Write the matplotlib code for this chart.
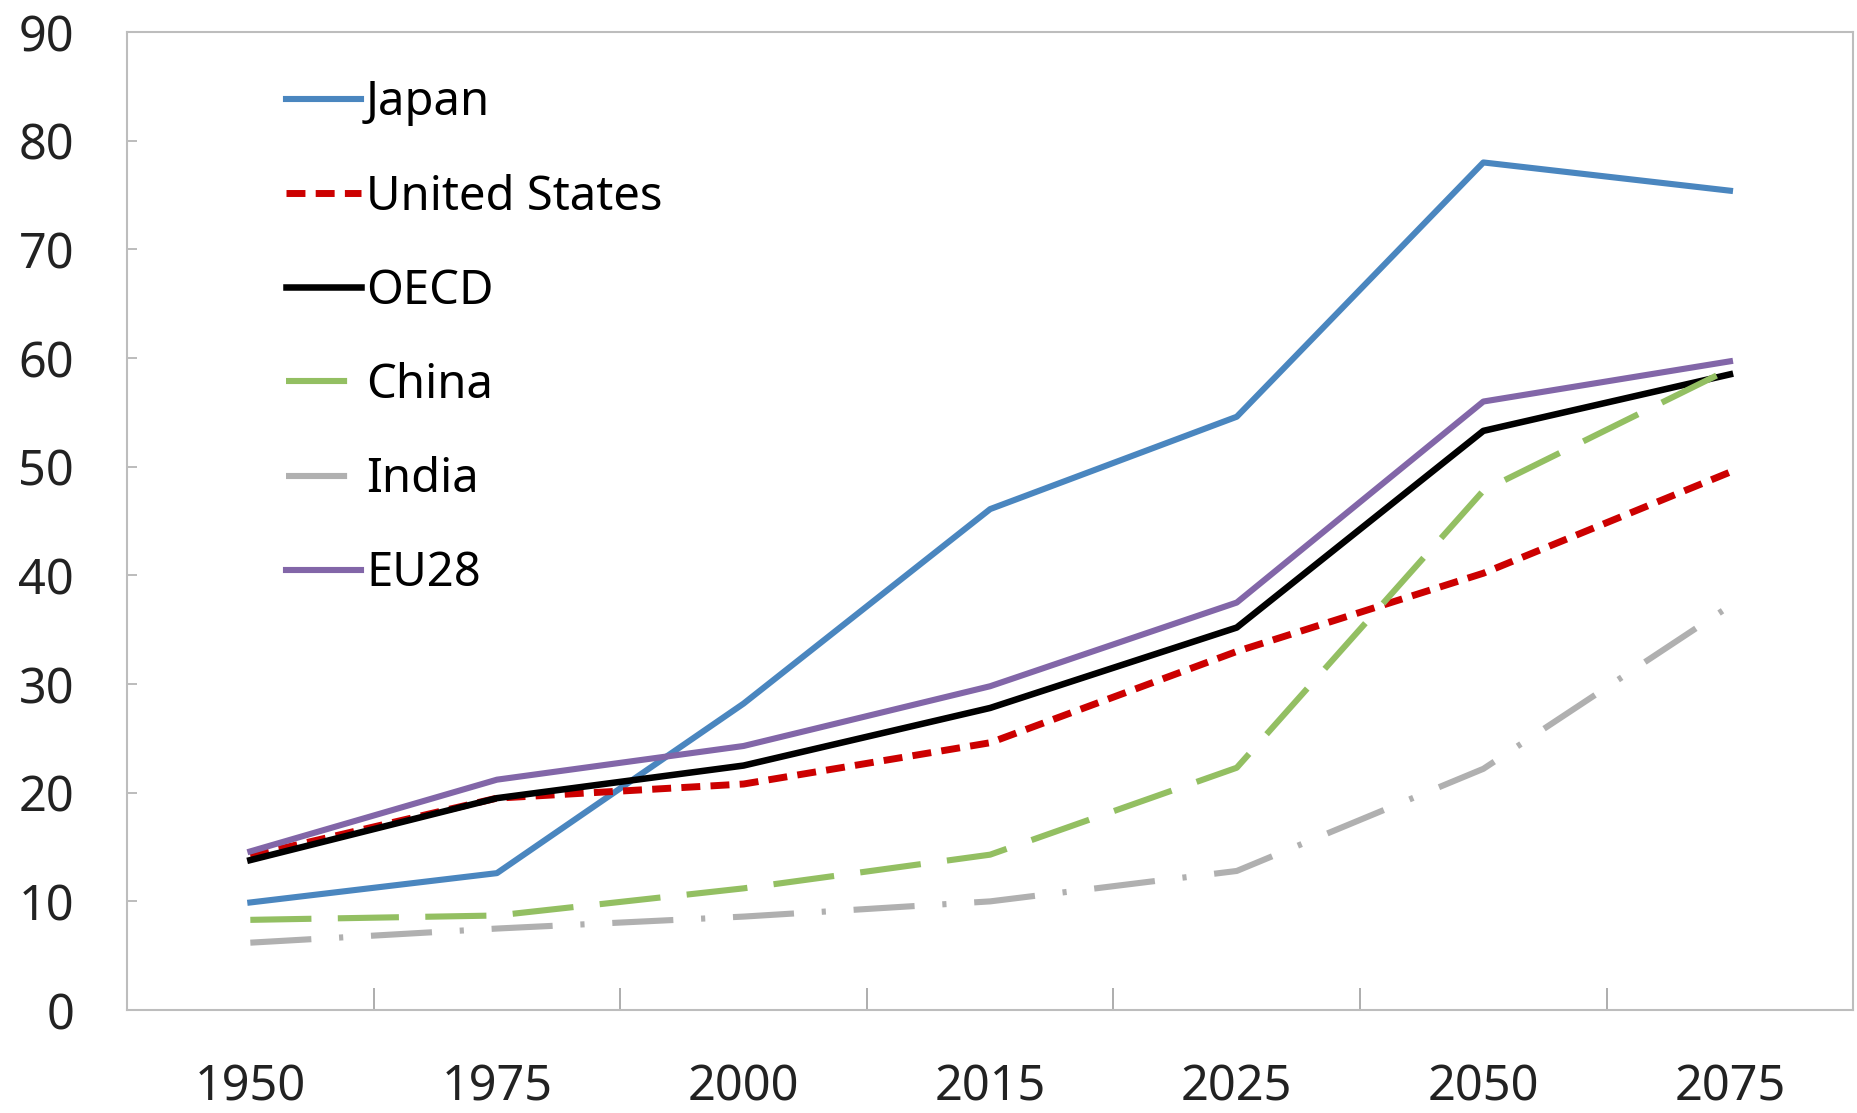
import numpy as np
import matplotlib
matplotlib.use("Agg")
from matplotlib import pyplot as plt

# old-age dependency ratio by region
years = ['1950', '1975', '2000', '2015', '2025', '2050', '2075']
japan = [9.9, 12.6, 28.2, 46.1, 54.6, 78.0, 75.4]
united_states = [14.2, 19.5, 20.8, 24.6, 33.0, 40.2, 49.5]
oecd = [13.8, 19.5, 22.5, 27.8, 35.2, 53.3, 58.5]
china = [8.3, 8.7, 11.2, 14.3, 22.3, 47.8, 59.0]
india = [6.2, 7.5, 8.6, 10.0, 12.8, 22.2, 37.2]
eu28 = [14.6, 21.2, 24.3, 29.8, 37.5, 56.0, 59.7]

plt.rcParams['font.family'] = ['Noto Sans', 'DejaVu Sans']

fig = plt.figure(figsize=(18.57, 11.13), dpi=100)
ax = fig.add_axes([0.0684, 0.0925, 0.9296, 0.8787])

x = np.arange(len(years))
lw = 4.4


def dash(*pts):
    # dash lengths given in points, matplotlib scales them by linewidth
    return [p / lw for p in pts]


ax.plot(x, japan, color='#4a86bf', lw=lw, label='Japan')
ax.plot(x, united_states, color='#cc0000', lw=lw + 0.6, label='United States',
        dashes=dash(12, 6.5))
ax.plot(x, oecd, color='black', lw=lw + 0.3, label='OECD')
ax.plot(x, china, color='#93bf62', lw=lw, label='China',
        dashes=dash(44, 19))
ax.plot(x, india, color='#b0b0b0', lw=lw, label='India',
        dashes=dash(44, 20, 3, 20))
ax.plot(x, eu28, color='#8266a8', lw=lw, label='EU28')

ax.set_xlim(-0.5, len(years) - 0.5)
ax.set_ylim(0, 90)
ax.set_yticks(np.arange(0, 91, 10))
ax.set_xticks(x)
ax.set_xticklabels(years)
ax.set_xticks(x[:-1] + 0.5, minor=True)

ax.tick_params(axis='x', which='major', length=0, pad=38, labelsize=35, colors='#222222')
ax.tick_params(axis='x', which='minor', direction='in', length=16, width=1.2, color='#a0a0a0')
ax.tick_params(axis='y', direction='in', length=7, width=1.2, color='#b0b0b0',
               pad=38, labelsize=35, labelcolor='#222222')

for side in ['left', 'right', 'top', 'bottom']:
    ax.spines[side].set_color('#bdbdbd')
    ax.spines[side].set_linewidth(1.5)

leg = ax.legend(loc='upper left', bbox_to_anchor=(0.081, 0.971), frameon=False,
                fontsize=34, handlelength=1.6, handletextpad=0.1, labelspacing=1.0,
                borderaxespad=0)

fig.savefig('out.png', dpi=100)
